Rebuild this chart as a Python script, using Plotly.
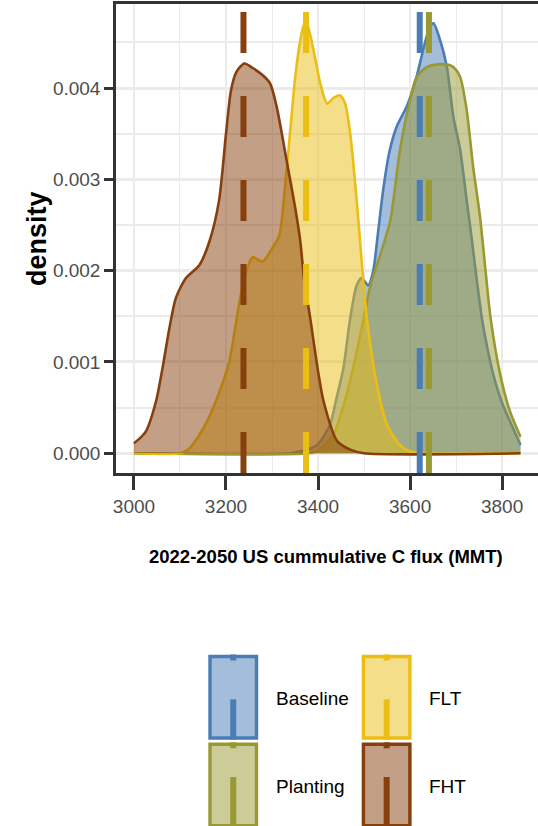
import plotly.graph_objects as go

# Kernel density estimates of cumulative C flux (MMT), one series per scenario
scenarios = ["Baseline", "Planting", "FLT", "FHT"]
colors = ["#4A7CB6", "#999933", "#EBBE14", "#873F0E"]

baseline_x = [3000, 3340, 3360, 3383, 3400, 3426, 3440, 3455, 3470, 3484, 3495, 3509,
              3520, 3530, 3542, 3555, 3571, 3593, 3614, 3630, 3643, 3651, 3665, 3680,
              3694, 3709, 3723, 3733, 3745, 3756, 3768, 3781, 3800, 3817, 3840]
baseline_y = [0, 0, 0.00002, 0.00005, 0.0001, 0.00031, 0.0006, 0.00093, 0.00148, 0.00184,
              0.00192, 0.00184, 0.0020, 0.0024, 0.0029, 0.0033, 0.00358, 0.0038, 0.00412,
              0.00445, 0.00467, 0.00471, 0.00453, 0.00423, 0.00369, 0.00332, 0.00277,
              0.00239, 0.0019, 0.00148, 0.00115, 0.00086, 0.00055, 0.00035, 0.00009]

planting_x = [3000, 3380, 3400, 3433, 3462, 3484, 3500, 3514, 3535, 3557, 3578, 3600, 3614,
              3636, 3660, 3687, 3700, 3709, 3723, 3737, 3752, 3765, 3775, 3796, 3817, 3840]
planting_y = [0, 0, 0.00003, 0.0002, 0.00064, 0.00111, 0.0015, 0.00184, 0.00217, 0.00255,
              0.00332, 0.00387, 0.00412, 0.00423, 0.00426, 0.00425, 0.0042, 0.00412, 0.00376,
              0.00314, 0.00259, 0.00195, 0.00148, 0.00086, 0.00046, 0.00018]

flt_x = [3000, 3100, 3120, 3142, 3160, 3178, 3207, 3222, 3232, 3247, 3258, 3270, 3280, 3301,
         3316, 3328, 3339, 3350, 3360, 3370, 3376, 3390, 3405, 3420, 3433, 3448, 3459, 3470,
         3484, 3491, 3506, 3528, 3550, 3578, 3600, 3630, 3840]
flt_y = [0, 0, 0.00005, 0.0002, 0.00036, 0.00057, 0.001, 0.00144, 0.00173, 0.00204, 0.00215,
         0.00212, 0.0021, 0.00225, 0.00239, 0.0029, 0.0035, 0.0041, 0.00448, 0.0047, 0.0047,
         0.00442, 0.00405, 0.00383, 0.00389, 0.00392, 0.00383, 0.0035, 0.00277, 0.00234,
         0.00148, 0.00075, 0.00031, 0.00009, 0.00002, 0, 0]

fht_x = [3000, 3012, 3026, 3048, 3062, 3077, 3091, 3113, 3142, 3164, 3185, 3200, 3211, 3223,
         3240, 3258, 3280, 3296, 3310, 3332, 3350, 3361, 3370, 3383, 3400, 3412, 3442, 3470,
         3500, 3840]
fht_y = [0.00011, 0.00016, 0.00024, 0.00057, 0.00093, 0.00137, 0.0017, 0.00192, 0.00206,
         0.00232, 0.00277, 0.0035, 0.00398, 0.00418, 0.00427, 0.00422, 0.00414, 0.00405,
         0.0038, 0.0032, 0.0027, 0.00234, 0.0019, 0.00148, 0.0009, 0.00057, 0.00013,
         0.00004, 0, 0]

# Scenario means (dashed reference lines)
means = [3621, 3641, 3374, 3238]

x_ticks = [3000, 3200, 3400, 3600, 3800]
y_ticks = [0.000, 0.001, 0.002, 0.003, 0.004]
y_tick_text = ["0.000", "0.001", "0.002", "0.003", "0.004"]

series_x = [baseline_x, planting_x, flt_x, fht_x]
series_y = [baseline_y, planting_y, flt_y, fht_y]

W, H = 538, 826
ML, MR, MT, MB = 116, 0, 4, 353
PW, PH = W - ML - MR, H - MT - MB

FONT = "Liberation Sans, Arial, sans-serif"
GRID = "#EBEBEB"
DARK = "#333333"


def rgba(hex_color, a):
    h = hex_color.lstrip("#")
    r, g, b = int(h[0:2], 16), int(h[2:4], 16), int(h[4:6], 16)
    return f"rgba({r},{g},{b},{a})"


def px_x(px):
    return (px - ML) / PW


def px_y(py):
    return (H - MB - py) / PH


fig = go.Figure()

for name, col, xs, ys in zip(scenarios, colors, series_x, series_y):
    fig.add_trace(go.Scatter(
        x=xs, y=ys, name=name, mode="lines",
        line=dict(color=col, width=2.6, shape="spline", smoothing=0.7),
        fill="tozeroy", fillcolor=rgba(col, 0.5),
        showlegend=False, hoverinfo="skip",
    ))

shapes = []
for col, m in zip(colors, means):
    shapes.append(dict(
        type="line", xref="x", yref="paper", x0=m, x1=m, y0=0, y1=1,
        line=dict(color=col, width=6, dash="41px,43px"), layer="above",
    ))

# Legend keys: filled box with a piece of the dashed mean line
annotations = []
key_cols = [210.0, 363.4]
key_rows = [656.5, 744.3]
key_w, key_h = 46.5, 81.5
for i, (name, col) in enumerate(zip(scenarios, colors)):
    c, r = i // 2, i % 2
    x0, y0 = key_cols[c], key_rows[r]
    x1, y1 = x0 + key_w, y0 + key_h
    xc = (x0 + x1) / 2
    shapes.append(dict(
        type="rect", xref="paper", yref="paper",
        x0=px_x(x0), x1=px_x(x1), y0=px_y(y1), y1=px_y(y0),
        fillcolor=rgba(col, 0.5), line=dict(color=col, width=3.4), layer="above",
    ))
    seg_top = 699.3 if r == 0 else 777.0
    shapes.append(dict(
        type="line", xref="paper", yref="paper",
        x0=px_x(xc), x1=px_x(xc), y0=px_y(y1 + 1.5), y1=px_y(seg_top),
        line=dict(color=col, width=6), layer="above",
    ))
    shapes.append(dict(
        type="line", xref="paper", yref="paper",
        x0=px_x(xc), x1=px_x(xc), y0=px_y(y0 + 4), y1=px_y(y0 - 2),
        line=dict(color=col, width=6), layer="above",
    ))
    annotations.append(dict(
        text=name, xref="paper", yref="paper",
        x=px_x(x1 + 17), y=px_y((y0 + y1) / 2 + 1),
        xanchor="left", yanchor="middle", showarrow=False,
        font=dict(family=FONT, size=19, color="black"),
    ))

annotations.append(dict(
    text="<b>2022-2050 US cummulative C flux (MMT)</b>", xref="paper", yref="paper",
    x=px_x(326), y=px_y(556), xanchor="center", yanchor="middle", showarrow=False,
    font=dict(family=FONT, size=18.5, color="black"),
))
annotations.append(dict(
    text="<b>density</b>", xref="paper", yref="paper",
    x=px_x(37), y=px_y(239), xanchor="center", yanchor="middle", showarrow=False,
    textangle=-90, font=dict(family=FONT, size=27, color="black"),
))

fig.update_layout(
    width=W, height=H,
    margin=dict(l=ML, r=MR, t=MT, b=MB, pad=0),
    paper_bgcolor="white", plot_bgcolor="white",
    shapes=shapes, annotations=annotations,
    xaxis=dict(
        range=[2961, 3878], tickvals=x_ticks, ticktext=[str(v) for v in x_ticks],
        showgrid=True, gridcolor=GRID, gridwidth=2,
        minor=dict(tickvals=[3100, 3300, 3500, 3700], showgrid=True, gridcolor=GRID,
                   gridwidth=1.2, ticks=""),
        zeroline=False, showline=True, linecolor=DARK, linewidth=2.5, mirror=True,
        ticks="outside", ticklen=14, tickwidth=3, tickcolor=DARK,
        tickfont=dict(family=FONT, size=19, color="#4D4D4D"),
    ),
    yaxis=dict(
        range=[-0.000216, 0.004921], tickvals=y_ticks, ticktext=y_tick_text,
        showgrid=True, gridcolor=GRID, gridwidth=3.2,
        minor=dict(tickvals=[0.0005, 0.0015, 0.0025, 0.0035, 0.0045], showgrid=True,
                   gridcolor=GRID, gridwidth=1.8, ticks=""),
        zeroline=False, showline=True, linecolor=DARK, linewidth=2.5,
        ticks="outside", ticklen=9, tickwidth=3, tickcolor=DARK,
        tickfont=dict(family=FONT, size=19, color="#4D4D4D"),
    ),
)

fig.write_html("out.html")
